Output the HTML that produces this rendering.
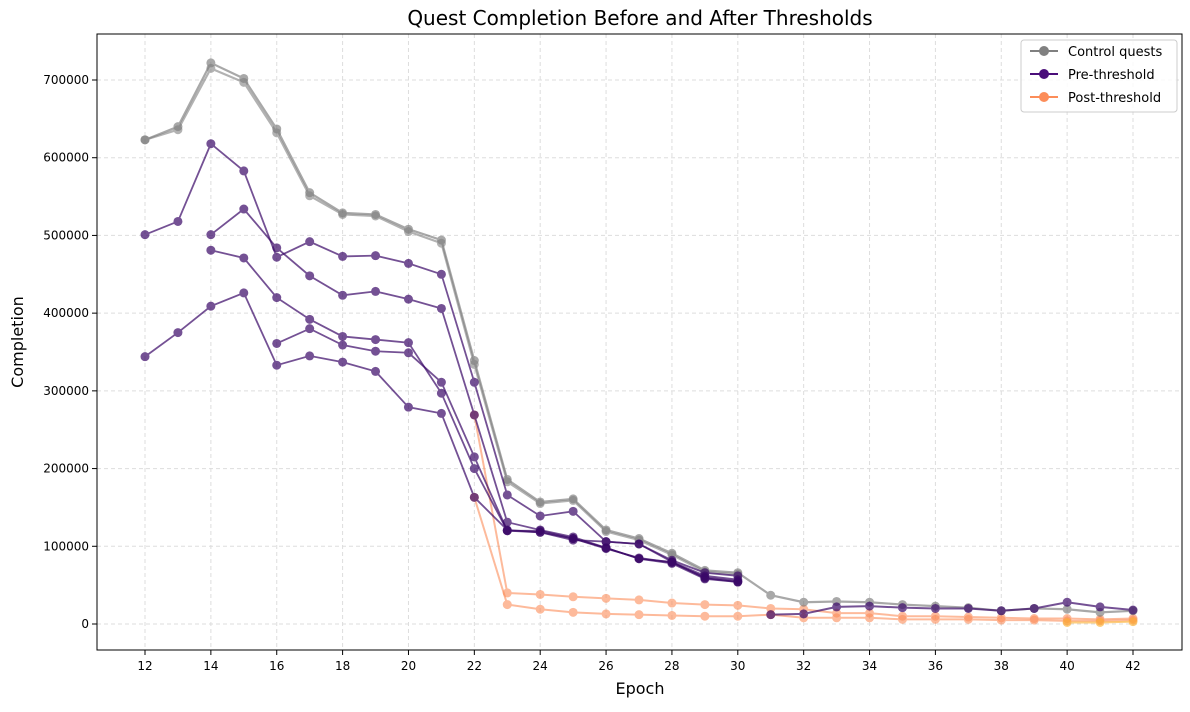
<!DOCTYPE html>
<html><head><meta charset="utf-8"><style>
body{margin:0;background:#fff;font-family:"Liberation Sans","DejaVu Sans",sans-serif}
svg text{font-family:"DejaVu Sans","Liberation Sans",sans-serif}
</style></head><body>
<svg id="chart" width="1190" height="707" xmlns="http://www.w3.org/2000/svg">
<rect width="1190" height="707" fill="#fff"/>
<g id="grid"></g>
<g id="series"></g>
<rect x="97" y="34" width="1085" height="616" fill="none" stroke="#000" stroke-width="1"/>
<g id="axes"></g>
<text x="640" y="25" font-size="20" text-anchor="middle">Quest Completion Before and After Thresholds</text>
<text x="640" y="694" font-size="16" text-anchor="middle">Epoch</text>
<text transform="translate(23,342) rotate(-90)" font-size="16" text-anchor="middle">Completion</text>
<g>
<rect x="1021" y="40" width="156" height="72" rx="3" fill="#fff" fill-opacity="0.85" stroke="#ccc"/>
<g><line x1="1030" y1="51" x2="1058" y2="51" stroke="#808080" stroke-width="2"/><circle cx="1044" cy="51" r="5" fill="#808080"/><text x="1068" y="56" font-size="13">Control quests</text></g>
<g><line x1="1030" y1="74" x2="1058" y2="74" stroke="#4a0e7a" stroke-width="2"/><circle cx="1044" cy="74" r="5" fill="#4a0e7a"/><text x="1068" y="79" font-size="13">Pre-threshold</text></g>
<g><line x1="1030" y1="97" x2="1058" y2="97" stroke="#fc8d59" stroke-width="2"/><circle cx="1044" cy="97" r="5" fill="#fc8d59"/><text x="1068" y="102" font-size="13">Post-threshold</text></g>
</g>
</svg>
<script>
const xTicks=[12,14,16,18,20,22,24,26,28,30,32,34,36,38,40,42];
const yTicks=[0,100000,200000,300000,400000,500000,600000,700000];
const controlA=[[12,623],[13,640],[14,722],[15,702],[16,637],[17,555],[18,529],[19,527],[20,508],[21,494],[22,339],[23,186],[24,157],[25,161],[26,121],[27,110],[28,91],[29,69],[30,66],[31,37],[32,28],[33,29],[34,28],[35,25],[36,23],[37,21],[38,17],[39,20],[40,19],[41,15],[42,17]];
const controlB=[[12,623],[13,636],[14,715],[15,697],[16,632],[17,551],[18,527],[19,525],[20,505],[21,490],[22,334],[23,183],[24,155],[25,159],[26,119],[27,108],[28,89],[29,67],[30,64]];
const pre1=[[12,501],[13,518],[14,618],[15,583],[16,472],[17,492],[18,473],[19,474],[20,464],[21,450],[22,311],[23,166],[24,139],[25,145],[26,106],[27,103],[28,80],[29,62],[30,57]];
const pre2=[[14,501],[15,534],[16,484],[17,448],[18,423],[19,428],[20,418],[21,406],[22,269],[23,131],[24,121],[25,112],[26,98],[27,84],[28,80],[29,59],[30,54]];
const pre3=[[14,481],[15,471],[16,420],[17,392],[18,370],[19,366],[20,362],[21,297],[22,200],[23,120],[24,120],[25,110],[26,98],[27,84],[28,78],[29,58],[30,54]];
const pre4=[[16,361],[17,380],[18,359],[19,351],[20,349],[21,311],[22,215],[23,120],[24,118],[25,108],[26,106],[27,103],[28,82],[29,66],[30,62]];
const pre5=[[12,344],[13,375],[14,409],[15,426],[16,333],[17,345],[18,337],[19,325],[20,279],[21,271],[22,163],[23,121],[24,118],[25,110],[26,97],[27,85],[28,79],[29,60],[30,55]];
const pre6=[[31,12],[32,13],[33,22],[34,23],[35,21],[36,20],[37,20],[38,17],[39,20],[40,28],[41,22],[42,18]];
const post1=[[22,269],[23,40],[24,38],[25,35],[26,33],[27,31],[28,27],[29,25],[30,24],[31,20],[32,19],[33,14],[34,14],[35,10],[36,10],[37,9],[38,8],[39,7],[40,7],[41,6],[42,7]];
const post2=[[22,163],[23,25],[24,19],[25,15],[26,13],[27,12],[28,11],[29,10],[30,10],[31,12],[32,8],[33,8],[34,8],[35,6],[36,6],[37,6],[38,5],[39,5],[40,4],[41,4],[42,5]];
const post3=[[40,2],[41,2],[42,3]];
const NS="http://www.w3.org/2000/svg";
const xs=e=>145+(e-12)*(1133-145)/30;
const ys=v=>624-v*(624-80)/700000;
function mk(t,a){const el=document.createElementNS(NS,t);for(const k in a)el.setAttribute(k,a[k]);return el;}
const grid=document.getElementById('grid'),axes=document.getElementById('axes'),ser=document.getElementById('series');
xTicks.forEach(t=>{const x=xs(t);
const g=mk('line',{x1:x,x2:x,y1:34,y2:650,stroke:'#ddd','stroke-dasharray':'4,3'});

grid.appendChild(g);
const tk=mk('line',{x1:x,x2:x,y1:650,y2:655,stroke:'#000'});

axes.appendChild(tk);
const tx=mk('text',{x:x,y:670,'font-size':12,'text-anchor':'middle'});tx.textContent=t;

axes.appendChild(tx);});
yTicks.forEach(t=>{const y=ys(t);
const g=mk('line',{x1:97,x2:1182,y1:y,y2:y,stroke:'#ddd','stroke-dasharray':'4,3'});

grid.appendChild(g);
const tk=mk('line',{x1:92,x2:97,y1:y,y2:y,stroke:'#000'});

axes.appendChild(tk);
const tx=mk('text',{x:89,y:y+4,'font-size':12,'text-anchor':'end'});tx.textContent=t;

axes.appendChild(tx);});
function draw(data,color,w,name,op){
const g=mk('g',{opacity:op});


const pts=data.map(d=>xs(d[0])+','+ys(d[1]*1000)).join(' ');
g.appendChild(mk('polyline',{points:pts,fill:'none',stroke:color,'stroke-width':w}));
data.forEach(d=>{const c=mk('circle',{cx:xs(d[0]),cy:ys(d[1]*1000),r:4.5,fill:color});

g.appendChild(c);});
ser.appendChild(g);}
draw(post1,'#fc8d59',2,'post-threshold-line-1',0.6);
draw(post2,'#fc8d59',2,'post-threshold-line-2',0.6);
draw(post3,'#fdae2b',2,'post-threshold-line-3',0.6);
draw(controlA,'#707070',2.2,'control-line-a',0.6);
draw(controlB,'#808080',2.2,'control-line-b',0.6);
[pre1,pre2,pre3,pre4,pre5].forEach((p,i)=>draw(p,'#3a0868',1.8,'pre-threshold-line-'+(i+1),0.7));
draw(pre6,'#3a0868',2,'pre-threshold-line-6',0.7);
</script>
</body></html>
